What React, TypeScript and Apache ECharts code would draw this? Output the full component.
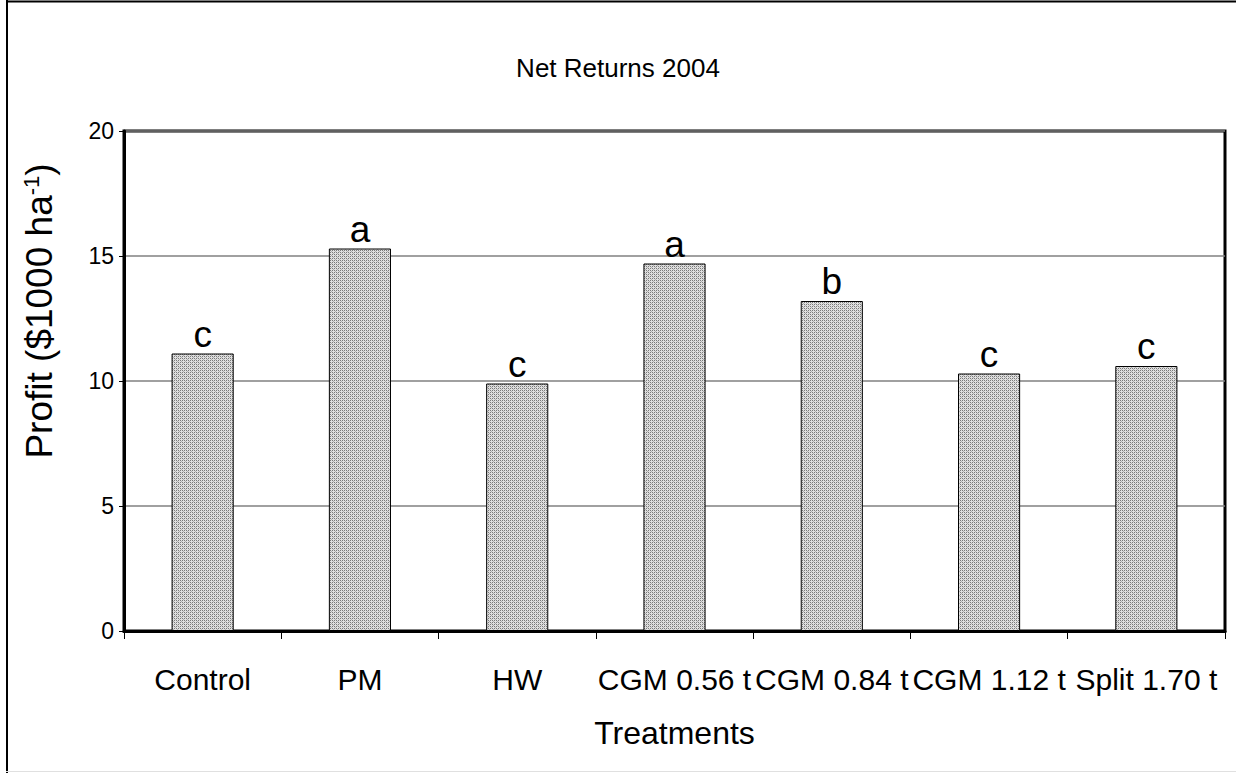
import React, { useEffect, useRef } from "react";
import * as echarts from "echarts";

const categories = ["Control", "PM", "HW", "CGM 0.56 t", "CGM 0.84 t", "CGM 1.12 t", "Split 1.70 t"];
const profit = [11.1, 15.3, 9.9, 14.7, 13.2, 10.3, 10.6];
const letters = ["c", "a", "c", "a", "b", "c", "c"];
const yTicks = [0, 5, 10, 15, 20];

function makePattern(): any {
  const c = document.createElement("canvas");
  c.width = 4;
  c.height = 4;
  const ctx = c.getContext("2d");
  if (!ctx) return "#bcbcbc";
  ctx.fillStyle = "#e0e0e0";
  ctx.fillRect(0, 0, 4, 4);
  ctx.fillStyle = "#7a7a7a";
  ctx.fillRect(0, 0, 1, 1);
  ctx.fillRect(2, 0, 1, 1);
  ctx.fillRect(0, 2, 1, 1);
  ctx.fillRect(2, 2, 1, 1);
  ctx.fillStyle = "#b0b0b0";
  ctx.fillRect(1, 1, 1, 1);
  ctx.fillRect(3, 3, 1, 1);
  return { image: c, repeat: "repeat" };
}

export default function App() {
  const ref = useRef<HTMLDivElement>(null);
  useEffect(() => {
    document.body.style.margin = "0";
    if (!ref.current) return;
    const chart = echarts.init(ref.current, undefined, { renderer: "svg" });
    const font = "Arial, 'Liberation Sans', sans-serif";
    chart.setOption({
      animation: false,
      backgroundColor: "#ffffff",
      textStyle: { fontFamily: font },
      title: {
        text: "Net Returns 2004",
        left: "center",
        top: 50,
        textStyle: { fontSize: 26, fontWeight: "normal", color: "#000", fontFamily: font },
      },
      grid: {
        left: 124,
        right: 11,
        top: 131,
        bottom: 142,
        show: true,
        borderColor: "#000",
        borderWidth: 3,
        backgroundColor: "transparent",
      },
      xAxis: {
        type: "category",
        data: categories,
        name: "Treatments",
        nameLocation: "middle",
        nameGap: 86,
        nameTextStyle: { fontSize: 32, color: "#000", fontFamily: font },
        axisLine: { lineStyle: { color: "#000", width: 3 } },
        axisTick: { show: true, length: 8, lineStyle: { color: "#000", width: 1 } },
        axisLabel: { fontSize: 30, color: "#000", margin: 33, fontFamily: font, interval: 0 },
      },
      yAxis: {
        type: "value",
        min: 0,
        max: 20,
        interval: 5,
        name: "Profit ($1000 ha{sup|-1})",
        nameLocation: "middle",
        nameGap: 66,
        nameRotate: 90,
        nameTextStyle: {
          fontSize: 37,
          color: "#000",
          fontFamily: font,
          padding: [0, 0, 0, 140],
          rich: {
            sup: { fontSize: 22, verticalAlign: "top", color: "#000", fontFamily: font, lineHeight: 38, padding: [0, 0, 17, 0] },
          },
        },
        axisLine: { show: true, lineStyle: { color: "#000", width: 3 } },
        axisTick: { show: true, length: 5, lineStyle: { color: "#000", width: 1 } },
        axisLabel: {
          fontSize: 23,
          color: "#000",
          margin: 10,
          fontFamily: font,
          formatter: (v: number) => (yTicks.includes(v) ? String(v) : ""),
        },
        splitLine: { show: true, lineStyle: { color: "#808080", width: 1.5 } },
      },
      series: [
        {
          type: "bar",
          data: profit,
          barWidth: "39.5%",
          itemStyle: { color: makePattern(), borderColor: "#000", borderWidth: 1 },
          label: {
            show: true,
            position: "top",
            distance: 1,
            fontSize: 37,
            color: "#000",
            fontFamily: font,
            formatter: (p: any) => letters[p.dataIndex],
          },
        },
      ],
      graphic: [
        { type: "line", shape: { x1: 7, y1: 0, x2: 7, y2: 773 }, style: { stroke: "#000", lineWidth: 2 } },
        { type: "line", shape: { x1: 6, y1: 1.5, x2: 1236, y2: 1.5 }, style: { stroke: "#000", lineWidth: 2 } },
        { type: "line", shape: { x1: 6, y1: 771.5, x2: 1236, y2: 771.5 }, style: { stroke: "#e0e0e0", lineWidth: 1 } },
      ],
    });
    return () => chart.dispose();
  }, []);
  return <div ref={ref} style={{ width: 1236, height: 773 }} />;
}
